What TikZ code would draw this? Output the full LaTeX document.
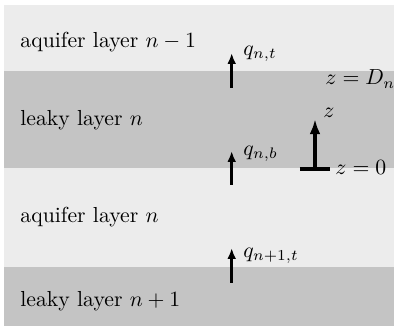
\documentclass[tikz,border=0pt]{standalone}
\usepackage{amsmath,amssymb}
\usepackage{tikz}
\usetikzlibrary{arrows.meta, positioning}
\definecolor{aquifer}{HTML}{ECECEC}
\definecolor{leaky}{HTML}{C4C4C4}

\begin{document}
\begin{tikzpicture}[x=0.46pt, y=0.46pt,
    aqlayer/.style={fill=aquifer, draw=none},
    lklayer/.style={fill=leaky, draw=none},
    layerlabel/.style={anchor=west, inner sep=0pt, font=\normalsize},
    flux/.style={line width=1.4pt, -{Latex[length=5pt, width=4pt]}},
    axis/.style={line width=1.8pt},
    tag/.style={anchor=west, inner sep=0pt},
]
    \useasboundingbox (0,0) rectangle (394,327);
    % Layers
    \fill[aqlayer] (4,256) rectangle (400,322);
    \fill[lklayer] (4,158.5) rectangle (400,256);
    \fill[aqlayer] (4,60) rectangle (400,158.5);
    \fill[lklayer] (4,1) rectangle (400,60);
    % Layer names
    \node[layerlabel] (aq1) at (20,285) {aquifer layer $n-1$};
    \node[layerlabel] (lk1) at (20,207) {leaky layer $n$};
    \node[layerlabel] (aq2) at (20,110) {aquifer layer $n$};
    \node[layerlabel] (lk2) at (20,26) {leaky layer $n+1$};
    % Fluxes
    \coordinate (qt0) at (231.7,239);
    \coordinate (qt1) at (231.7,274);
    \coordinate (qb0) at (231.7,142);
    \coordinate (qb1) at (231.7,176);
    \coordinate (qn0) at (231.7,44);
    \coordinate (qn1) at (231.7,79);
    \draw[flux] (qt0) -- (qt1);
    \draw[flux] (qb0) -- (qb1);
    \draw[flux] (qn0) -- (qn1);
    \node[tag] (qt) at (243,273) {$q_{n,t}$};
    \node[tag] (qb) at (243,173) {$q_{n,b}$};
    \node[tag] (qn) at (243,71) {$q_{n+1,t}$};
    % Local z axis
    \coordinate (zl) at (300,158);
    \coordinate (zr) at (330,158);
    \coordinate (z0) at (315,158);
    \coordinate (z1) at (315,208);
    \draw[axis] (zl) -- (zr);
    \draw[axis, -{Latex[length=7pt, width=5pt]}] (z0) -- (z1);
    \node[tag] (zlab) at (323,214) {$z$};
    \node[tag] (zbot) at (335,159) {$z=0$};
    \node[tag] (ztop) at (325,248) {$z=D_n$};
\end{tikzpicture}
\end{document}
